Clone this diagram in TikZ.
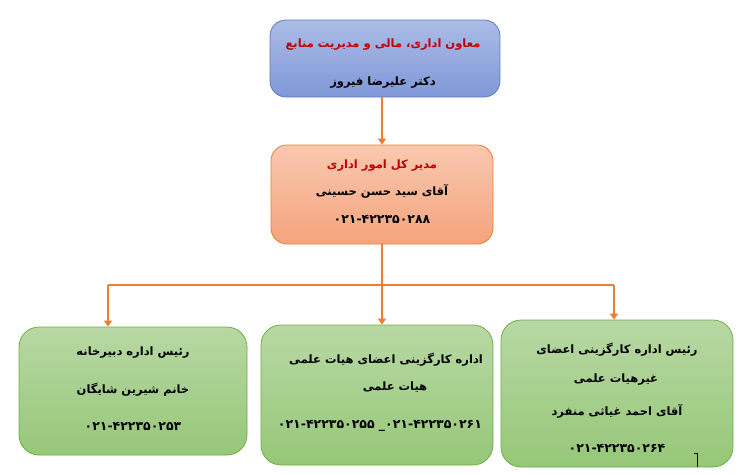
\documentclass[tikz,border=0pt]{standalone}
\usepackage{fontspec}
\newfontfamily\fa[Script=Arabic]{DejaVu Sans}
\TeXXeTstate=1
\usetikzlibrary{arrows.meta}
\definecolor{bluetop}{RGB}{172,188,230}
\definecolor{bluebot}{RGB}{128,152,216}
\definecolor{blueedge}{RGB}{95,122,190}
\definecolor{saltop}{RGB}{249,200,176}
\definecolor{salbot}{RGB}{244,164,124}
\definecolor{saledge}{RGB}{237,125,49}
\definecolor{grtop}{RGB}{184,216,164}
\definecolor{grbot}{RGB}{150,199,120}
\definecolor{gredge}{RGB}{112,173,71}
\definecolor{dred}{RGB}{192,0,0}
\definecolor{conncol}{RGB}{237,125,49}
\newcommand\rl[1]{\beginR #1\endR}
\tikzset{
  boxbase/.style={rounded corners=16pt, inner sep=0pt, line width=0.8pt},
  bluebox/.style={boxbase, top color=bluetop, bottom color=bluebot, draw=blueedge},
  salbox/.style={boxbase, top color=saltop, bottom color=salbot, draw=saledge},
  grbox/.style={boxbase, rounded corners=20pt, top color=grtop, bottom color=grbot, draw=gredge},
  txt/.style={inner sep=0pt, text height=11pt, text depth=0pt,
    font=\fa\bfseries\fontsize{11.5}{14}\selectfont},
  redtxt/.style={txt, text=dred},
  numtxt/.style={txt, font=\fa\bfseries\fontsize{12.5}{14}\selectfont},
  conn/.style={draw=conncol, line width=1.6pt},
  arr/.style={conn, -{Triangle[width=8pt,length=6pt]}},
}
\begin{document}
\begin{tikzpicture}[x=1pt,y=-1pt]
\useasboundingbox (0,0) rectangle (745,474);
\fill[white] (0,0) rectangle (745,474);

% boxes
\node[bluebox, minimum width=230pt, minimum height=77pt] (top) at (385,58.5) {};
\node[salbox, minimum width=222pt, minimum height=99pt] (mid) at (382,194.5) {};
\node[grbox, minimum width=228pt, minimum height=128pt] (bl) at (133,391) {};
\node[grbox, minimum width=232pt, minimum height=140pt] (bm) at (377,395) {};
\node[grbox, minimum width=232pt, minimum height=147pt] (br) at (617,393.5) {};

% texts
\node[redtxt] (top1) at (383,42) {\rl{معاون اداری، مالی و مدیریت منابع}};
\node[txt] (top2) at (383,80) {\rl{دکتر علیرضا فیروز}};

\node[redtxt] (mid1) at (382,163) {\rl{مدیر کل امور اداری}};
\node[txt] (mid2) at (382,190) {\rl{آقای سید حسن حسینی}};
\node[numtxt] (mid3) at (382,218) {۰۲۱-۴۲۲۳۵۰۲۸۸};

\node[txt] (bl1) at (133,350) {\rl{رئیس اداره دبیرخانه}};
\node[txt] (bl2) at (133,388) {\rl{خانم شیرین شایگان}};
\node[numtxt] (bl3) at (133,425) {۰۲۱-۴۲۲۳۵۰۲۵۳};

\node[txt] (bm1) at (386,358) {\rl{اداره کارگزینی اعضای هیات علمی}};
\node[txt] (bm2) at (395,385) {\rl{هیات علمی}};
\node[numtxt] (bm3) at (380,423) {\hbox{۰۲۱-۴۲۲۳۵۰۲۵۵} \hbox{\_}\hbox{۰۲۱-۴۲۲۳۵۰۲۶۱}};

\node[txt] (br1) at (617,348) {\rl{رئیس اداره کارگزینی اعضای}};
\node[txt] (br2) at (616,377) {\rl{غیرهیات علمی}};
\node[txt] (br3) at (617,410) {\rl{آقای احمد غیاثی منفرد}};
\node[numtxt] (br4) at (617,447) {۰۲۱-۴۲۲۳۵۰۲۶۴};

% connectors
\draw[arr] (top.south -| mid.south) -- (mid.north);
\coordinate (bL) at (108,285);
\coordinate (bR) at (614,285);
\draw[conn] (bL) -- (bR);
\draw[arr] (bL) -- (bL |- bl.north);
\draw[arr] (bR) -- (bR |- br.north);
\draw[arr] (mid.south) -- (mid.south |- bm.north);

\draw[line width=0.6pt] (694,453) -- (697,453) -- (697,467);
\end{tikzpicture}
\end{document}
